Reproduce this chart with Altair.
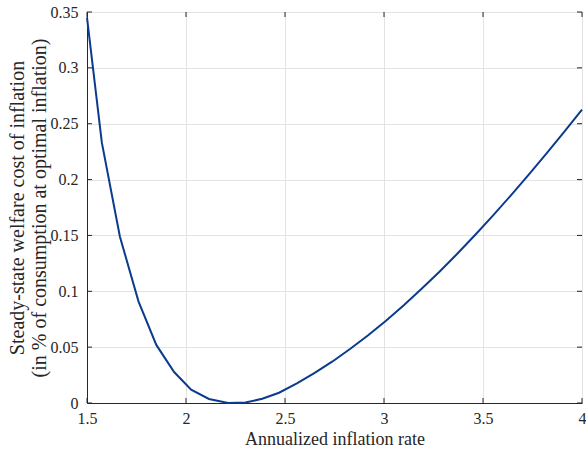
import altair as alt
import pandas as pd

# Annualized inflation rate (%) and steady-state welfare cost (% of consumption)
inflation = [1.500, 1.575, 1.666, 1.760, 1.850, 1.940, 2.026, 2.116, 2.213,
             2.300, 2.385, 2.470, 2.560, 2.650, 2.740, 2.830, 2.920, 3.010,
             3.100, 3.190, 3.280, 3.370, 3.460, 3.550, 3.640, 3.730, 3.820,
             3.910, 4.000]
welfare_cost = [0.345, 0.233, 0.149, 0.091, 0.052, 0.0277, 0.0119, 0.0036, 0.0001,
                0.0004, 0.0038, 0.0092, 0.0176, 0.0269, 0.0372, 0.0485, 0.0607, 0.0737,
                0.0875, 0.1022, 0.1175, 0.1336, 0.1504, 0.1677, 0.1857, 0.2042, 0.2232,
                0.2427, 0.2626]

x_ticks = [1.5, 2.0, 2.5, 3.0, 3.5, 4.0]
y_ticks = [0.0, 0.05, 0.10, 0.15, 0.20, 0.25, 0.30, 0.35]

W, H = 495, 391
FONT = "Liberation Serif"
AXIS_COLOR = "#262626"
TICK_LEN = 5

curve = pd.DataFrame({"infl": inflation, "cost": welfare_cost})
xt = pd.DataFrame({"v": x_ticks})
yt = pd.DataFrame({"v": y_ticks})

x_scale = alt.Scale(domain=[1.5, 4.0], nice=False, zero=False)
y_scale = alt.Scale(domain=[0.0, 0.35], nice=False)

line = alt.Chart(curve).mark_line(color="#0b3b8c", strokeWidth=2).encode(
    x=alt.X("infl:Q", scale=x_scale,
            axis=alt.Axis(title="Annualized inflation rate", values=x_ticks,
                          format=".1~f", grid=True, ticks=False, labelFlush=False,
                          labelPadding=7, titlePadding=4, titleFontSize=18)),
    y=alt.Y("cost:Q", scale=y_scale,
            axis=alt.Axis(title=["Steady-state welfare cost of inflation",
                                 "(in % of consumption at optimal inflation)"],
                          values=y_ticks, format=".2~f", grid=True, ticks=False,
                          labelFlush=False, labelPadding=9, titlePadding=1,
                          titleFontSize=20, titleLineHeight=22)),
)

# inward tick marks on all four sides of the box
tick_style = dict(color=AXIS_COLOR, strokeWidth=1)
bottom_ticks = alt.Chart(xt).mark_rule(**tick_style).encode(
    x=alt.X("v:Q", scale=x_scale), y=alt.value(H), y2=alt.value(H - TICK_LEN))
top_ticks = alt.Chart(xt).mark_rule(**tick_style).encode(
    x=alt.X("v:Q", scale=x_scale), y=alt.value(0), y2=alt.value(TICK_LEN))
left_ticks = alt.Chart(yt).mark_rule(**tick_style).encode(
    y=alt.Y("v:Q", scale=y_scale), x=alt.value(0), x2=alt.value(TICK_LEN))
right_ticks = alt.Chart(yt).mark_rule(**tick_style).encode(
    y=alt.Y("v:Q", scale=y_scale), x=alt.value(W), x2=alt.value(W - TICK_LEN))

chart = alt.layer(line, bottom_ticks, top_ticks, left_ticks, right_ticks).properties(
    width=W, height=H,
    padding={"left": 87, "top": 12, "right": 4, "bottom": 46},
    autosize=alt.AutoSizeParams(type="none"),
).configure_view(
    stroke=AXIS_COLOR, strokeWidth=1
).configure_axis(
    labelFont=FONT, titleFont=FONT, labelFontSize=16,
    titleFontWeight="normal", labelColor=AXIS_COLOR, titleColor=AXIS_COLOR,
    domainColor=AXIS_COLOR, gridColor="#e3e3e3", gridWidth=1,
)

chart.save("out.html", embed_options={"renderer": "svg", "actions": False})
